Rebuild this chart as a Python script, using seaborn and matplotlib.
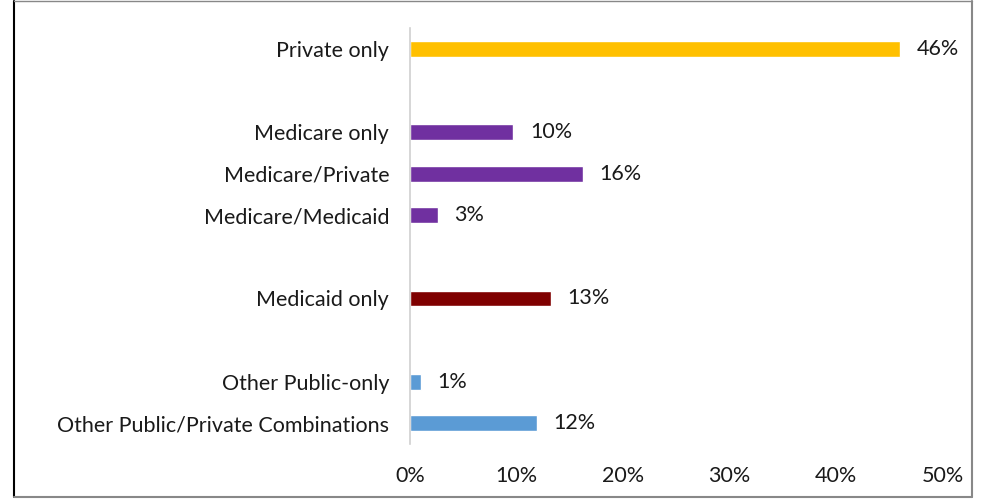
import numpy as np
import pandas as pd
import matplotlib
matplotlib.use("Agg")
import matplotlib.pyplot as plt
import seaborn as sns
from matplotlib.lines import Line2D

# categories top to bottom; blank strings are the gaps between groups
categories = ["Private only", " ",
              "Medicare only", "Medicare/Private", "Medicare/Medicaid", "  ",
              "Medicaid only", "   ",
              "Other Public-only", "Other Public/Private Combinations"]
values = [46.0, np.nan, 9.7, 16.2, 2.6, np.nan, 13.2, np.nan, 1.0, 11.9]
value_labels = ["46%", "", "10%", "16%", "3%", "", "13%", "", "1%", "12%"]
bar_colors = ["#FFC000", "#FFFFFF", "#7030A0", "#7030A0", "#7030A0", "#FFFFFF",
              "#7F0000", "#FFFFFF", "#5B9BD5", "#5B9BD5"]
x_ticks = [0, 10, 20, 30, 40, 50]

df = pd.DataFrame({"cat": categories, "val": values})

sns.set_style("white")
plt.rcParams["font.family"] = ["Lato", "DejaVu Sans"]
fs = 15.5

fig = plt.figure(figsize=(9.81, 4.99), dpi=100)
ax = fig.add_axes([0.418, 0.110, 0.961 - 0.418, 0.944 - 0.110])

sns.barplot(data=df, x="val", y="cat", order=categories, hue="cat",
            hue_order=categories, palette=bar_colors, legend=False,
            width=0.38, saturation=1, ax=ax)

for i, (v, lab) in enumerate(zip(values, value_labels)):
    if lab:
        ax.annotate(lab, xy=(v, i), xytext=(12, 0), textcoords="offset points",
                    ha="left", va="center", fontsize=fs, color="#1a1a1a")

ax.set_xlim(0, 50)
ax.set_xticks(x_ticks)
ax.set_xticklabels([f"{t}%" for t in x_ticks])
ax.set_xlabel("")
ax.set_ylabel("")
ax.tick_params(axis="y", length=0, pad=15, labelsize=fs, labelcolor="#1a1a1a")
ax.tick_params(axis="x", length=0, pad=16, labelsize=fs, labelcolor="#1a1a1a")

for s in ["top", "right", "bottom"]:
    ax.spines[s].set_visible(False)
ax.spines["left"].set_color("#D0D0D0")
ax.spines["left"].set_linewidth(1.2)

# outer frame around the figure
fig.add_artist(Line2D([14 / 981, 14 / 981], [0.004, 0.998], color="black", lw=1.5,
                      transform=fig.transFigure))
fig.add_artist(Line2D([14 / 981, 972 / 981], [0.004, 0.004], color="#888888", lw=1.5,
                      transform=fig.transFigure))
fig.add_artist(Line2D([972 / 981, 972 / 981], [0.004, 0.998], color="#888888", lw=1.5,
                      transform=fig.transFigure))
fig.add_artist(Line2D([14 / 981, 972 / 981], [0.998, 0.998], color="#888888", lw=1.0,
                      transform=fig.transFigure))

fig.savefig("out.png", dpi=100)
